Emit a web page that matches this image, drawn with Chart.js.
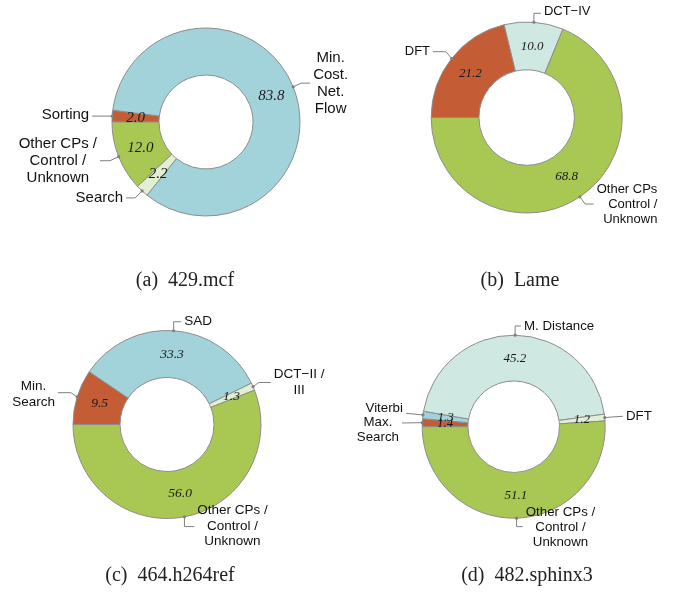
<!DOCTYPE html>
<html>
<head>
<meta charset="utf-8">
<script src="https://cdn.jsdelivr.net/npm/chart.js@4.4.1/dist/chart.umd.min.js"></script>
<style>
  body { margin: 0; background: #fff; }
  #page { position: relative; width: 675px; height: 592px; overflow: hidden; }
  #page canvas { position: absolute; }
  .caption {
    position: absolute; width: 260px; text-align: center; white-space: pre;
    font: 20px "Liberation Serif", "Times New Roman", serif; line-height: 24px; color: #222;
  }
</style>
</head>
<body>
<div id="page">
  <canvas id="lameChart" width="338" height="296" style="left:337px;top:0"></canvas>
  <canvas id="mcfChart" width="380" height="296" style="left:0;top:0"></canvas>
  <canvas id="h264Chart" width="337" height="296" style="left:0;top:296px"></canvas>
  <canvas id="sphinxChart" width="338" height="296" style="left:337px;top:296px"></canvas>
  <div class="caption" id="capA" style="left:55px;top:267px"></div>
  <div class="caption" id="capB" style="left:390px;top:267px"></div>
  <div class="caption" id="capC" style="left:40px;top:562px"></div>
  <div class="caption" id="capD" style="left:397px;top:562px"></div>
</div>
<script>
// ---- data (clockwise from 9 o'clock) ----
const mcfLabels = [['Sorting'], ['Min.', 'Cost.', 'Net.', 'Flow'], ['Search'], ['Other CPs /', 'Control /', 'Unknown']];
const mcfValues = [2.0, 83.8, 2.2, 12.0];

const lameLabels = [['DFT'], ['DCT\u2212IV'], ['Other CPs', 'Control /', 'Unknown']];
const lameValues = [21.2, 10.0, 68.8];

const h264Labels = [['Min.', 'Search'], ['SAD'], ['DCT\u2212II /', 'III'], ['Other CPs /', 'Control /', 'Unknown']];
const h264Values = [9.5, 33.3, 1.3, 56.0];

const sphinxLabels = [['Max.', 'Search'], ['Viterbi'], ['M. Distance'], ['DFT'], ['Other CPs /', 'Control /', 'Unknown']];
const sphinxValues = [1.4, 1.3, 45.2, 1.2, 51.1];

const captions = ['(a)  429.mcf', '(b)  Lame', '(c)  464.h264ref', '(d)  482.sphinx3'];

// ---- colours ----
const BLUE = '#a3d3da', RED = '#c45d36', GREEN = '#a9c853', PALE = '#e3efd3', MINT = '#cfe8e2';

// leader lines: end point offset from the slice's outer mid point, flat part length, text shift
const mcfLeaders = [
  { dx: -20, dy: 0, bend: 0, vy: -1 },
  { dx: 17, dy: -3.7, bend: 9, vy: 0 },
  { dx: -16, dy: 7, bend: 9, vy: 0 },
  { dx: -18.6, dy: 4.1, bend: 10, vy: 0 }
];
const lameLeaders = [
  { dx: -18.6, dy: -6.8, bend: 13, vy: 0 },
  { dx: 7, dy: -9, bend: 7, vy: -1.6 },
  { dx: 13.8, dy: 7.2, bend: 8.5, vy: 0.5, align: 'right' }
];
const h264Leaders = [
  { dx: -19.2, dy: -4.2, bend: 13, vy: 1.5 },
  { dx: 7.5, dy: -9, bend: 7.5, vy: 0 },
  { dx: 17.8, dy: -4.2, bend: 12, vy: 0 },
  { dx: 9.7, dy: 9.7, bend: 9.7, vy: -0.5 }
];
const sphinxLeaders = [
  { dx: -20.3, dy: 0.3, bend: 0, vy: 7 },
  { dx: -17, dy: -1.7, bend: 0, vy: -5 },
  { dx: 5.9, dy: -9.2, bend: 5.9, vy: 0 },
  { dx: 18.2, dy: -1.3, bend: 0, vy: 0 },
  { dx: 6.2, dy: 8.5, bend: 6.2, vy: 1 }
];

function sliceLabelPlugin(cfg) {
  return {
    id: 'sliceLabels',
    afterDatasetsDraw(chart) {
      const ctx = chart.ctx;
      const arcs = chart.getDatasetMeta(0).data;
      const values = chart.data.datasets[0].data;
      const labels = chart.data.labels;
      ctx.save();
      arcs.forEach((arc, i) => {
        const p = arc.getProps(['x', 'y', 'startAngle', 'endAngle', 'outerRadius'], true);
        const mid = (p.startAngle + p.endAngle) / 2;
        const ax = p.x + Math.cos(mid) * p.outerRadius;
        const ay = p.y + Math.sin(mid) * p.outerRadius;

        // value inside the ring
        const vp = arc.tooltipPosition(true);
        ctx.font = cfg.valueFont;
        ctx.fillStyle = '#1a1a1a';
        ctx.textAlign = 'center';
        ctx.textBaseline = 'middle';
        ctx.fillText(values[i].toFixed(1), vp.x, vp.y);

        // leader line
        const ld = cfg.leaders[i];
        const ex = ax + ld.dx, ey = ay + ld.dy;
        const dir = ld.dx >= 0 ? 1 : -1;
        const bx = ex - dir * ld.bend;
        ctx.strokeStyle = '#808080';
        ctx.lineWidth = 1;
        ctx.beginPath();
        ctx.moveTo(ax, ay);
        ctx.lineTo(bx, ey);
        ctx.lineTo(ex, ey);
        ctx.stroke();
        ctx.fillStyle = '#808080';
        ctx.beginPath();
        ctx.arc(ax, ay, 1.6, 0, Math.PI * 2);
        ctx.fill();

        // label text block
        const lines = labels[i];
        ctx.font = cfg.labelFont;
        ctx.fillStyle = '#111';
        const w = Math.max(...lines.map(t => ctx.measureText(t).width));
        const left = dir > 0 ? ex + cfg.gap : ex - cfg.gap - w;
        const align = ld.align || 'center';
        const tx = align === 'left' ? left : align === 'right' ? left + w : left + w / 2;
        ctx.textAlign = align;
        lines.forEach((t, k) => {
          const y = ey + ld.vy + (k - (lines.length - 1) / 2) * cfg.lineHeight;
          ctx.fillText(t, tx, y);
        });
      });
      ctx.restore();
    }
  };
}

function makeDonut(canvasId, labels, values, colors, center, radius, cfg) {
  const canvas = document.getElementById(canvasId);
  const W = canvas.width, H = canvas.height;
  const padding = {
    left: Math.max(0, 2 * center[0] - W), right: Math.max(0, W - 2 * center[0]),
    top: Math.max(0, 2 * center[1] - H), bottom: Math.max(0, H - 2 * center[1])
  };
  return new Chart(canvas.getContext('2d'), {
    type: 'doughnut',
    data: {
      labels: labels,
      datasets: [{
        data: values,
        backgroundColor: colors,
        borderColor: '#8c8c8c',
        borderWidth: 1,
        hoverOffset: 0
      }]
    },
    options: {
      responsive: false,
      animation: false,
      events: [],
      rotation: 270,
      radius: radius,
      cutout: '50%',
      layout: { padding: padding },
      plugins: { legend: { display: false }, tooltip: { enabled: false } }
    },
    plugins: [sliceLabelPlugin(cfg)]
  });
}

const sansFont = (s) => `${s}px "Liberation Sans", Arial, sans-serif`;
const serifItalic = (s) => `italic ${s}px "Liberation Serif", "Times New Roman", serif`;

makeDonut('mcfChart', mcfLabels, mcfValues, [RED, BLUE, PALE, GREEN], [206, 122], 94,
  { leaders: mcfLeaders, labelFont: sansFont(15), valueFont: serifItalic(15), lineHeight: 17, gap: 3 });
makeDonut('lameChart', lameLabels, lameValues, [RED, MINT, GREEN], [189.7, 117.5], 95.5,
  { leaders: lameLeaders, labelFont: sansFont(13), valueFont: serifItalic(13), lineHeight: 14.7, gap: 3 });
makeDonut('h264Chart', h264Labels, h264Values, [RED, BLUE, PALE, GREEN], [167, 128.5], 94,
  { leaders: h264Leaders, labelFont: sansFont(13.5), valueFont: serifItalic(13.5), lineHeight: 15.7, gap: 3 });
makeDonut('sphinxChart', sphinxLabels, sphinxValues, [RED, BLUE, MINT, PALE, GREEN], [176.7, 130.7], 91.5,
  { leaders: sphinxLeaders, labelFont: sansFont(13.3), valueFont: serifItalic(13), lineHeight: 15, gap: 3 });

['capA', 'capB', 'capC', 'capD'].forEach((id, i) => {
  document.getElementById(id).textContent = captions[i];
});
</script>
</body>
</html>
